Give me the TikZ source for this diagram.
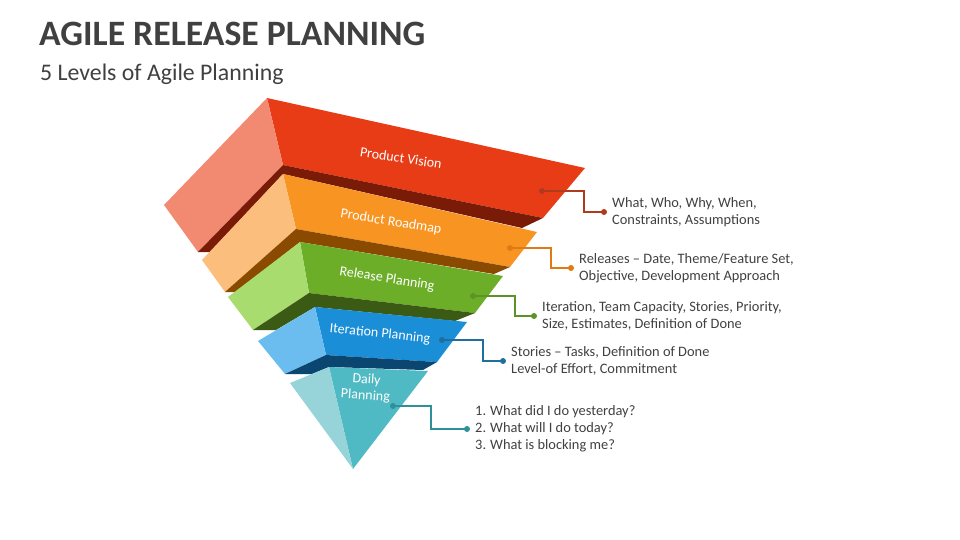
\documentclass[tikz,border=0pt]{standalone}
\usepackage{fontspec}
\setmainfont{Carlito}
\usepackage{xcolor}
\usepackage{tikz}
\usetikzlibrary{positioning, calc}

\definecolor{visionfront}{HTML}{E83C16}
\definecolor{visionside}{HTML}{F28A72}
\definecolor{visiondark}{HTML}{7A1B08}
\definecolor{visionline}{HTML}{B03A1E}
\definecolor{roadmapfront}{HTML}{F89422}
\definecolor{roadmapside}{HTML}{FBBE7D}
\definecolor{roadmapdark}{HTML}{8A4A00}
\definecolor{roadmapline}{HTML}{E07A12}
\definecolor{releasefront}{HTML}{6DAE29}
\definecolor{releaseside}{HTML}{A9DC6E}
\definecolor{releasedark}{HTML}{3B5B14}
\definecolor{releaseline}{HTML}{5C9226}
\definecolor{iterfront}{HTML}{1A8ED6}
\definecolor{iterside}{HTML}{6CBDEF}
\definecolor{iterdark}{HTML}{0B4670}
\definecolor{iterline}{HTML}{1F6E9E}
\definecolor{dailyfront}{HTML}{4FBAC3}
\definecolor{dailyside}{HTML}{96D4DA}
\definecolor{dailyline}{HTML}{2E9099}
\definecolor{textgray}{HTML}{404040}

\tikzset{
    funnellabel/.style={text=white, inner sep=0pt, align=center,
        font=\fontsize{14}{16}\selectfont},
    notetext/.style={anchor=west, align=left, inner xsep=8pt, inner ysep=0pt,
        text=textgray, font=\fontsize{14.4}{17}\selectfont}
}

\def\tikfunnel{%
    % front faces: a top left, b top right, c bottom right, d bottom left
    \coordinate (f1a) at (267,98);
    \coordinate (f1b) at (585,168);
    \coordinate (f1c) at (543,218);
    \coordinate (f1d) at (283,165);
    \coordinate (f2a) at (283,174);
    \coordinate (f2b) at (537,232);
    \coordinate (f2c) at (510,267);
    \coordinate (f2d) at (296,229);
    \coordinate (f3a) at (300,242);
    \coordinate (f3b) at (503,276);
    \coordinate (f3c) at (475,313);
    \coordinate (f3d) at (309,293);
    \coordinate (f4a) at (315,307);
    \coordinate (f4b) at (467,322);
    \coordinate (f4c) at (437,362);
    \coordinate (f4d) at (326,355);
    \coordinate (f5a) at (329,367);
    \coordinate (f5b) at (428,371);
    \coordinate (f5c) at (353,469);
    % side faces
    \coordinate (s1a) at (164,205);
    \coordinate (s1b) at (198,252);
    \coordinate (s2a) at (202,260);
    \coordinate (s2b) at (225,292);
    \coordinate (s3a) at (228,297);
    \coordinate (s3b) at (253,330);
    \coordinate (s4a) at (258,341);
    \coordinate (s4b) at (285,374);
    \coordinate (s5a) at (290,383);
    % ends of the dark bottom strips
    \coordinate (r1) at (522,228);
    \coordinate (r2) at (494,274);
    \coordinate (r3) at (455,321);
    \coordinate (r4) at (423,370);
    \coordinate (k1) at (210,252);
    \coordinate (k2) at (236,292);
    \coordinate (k3) at (276,330);
    \coordinate (k4) at (312,374);
    % connector dots and bends
    \coordinate (d1) at (542,191);
    \coordinate (d2) at (510,248);
    \coordinate (d3) at (473,296);
    \coordinate (d4) at (442,340);
    \coordinate (d5) at (393,406);
    \coordinate (b1) at (584,191);
    \coordinate (b2) at (551,248);
    \coordinate (b3) at (515,296);
    \coordinate (b4) at (483,340);
    \coordinate (b5) at (431,406);
}

\begin{document}
\begin{tikzpicture}[x=1pt, y=-1pt]
    \useasboundingbox (0,0) rectangle (960,540);
    \tikfunnel

    % title
    \node[anchor=base west, inner sep=0pt, text=textgray,
        font=\bfseries\fontsize{35.7}{40}\selectfont] (title) at (39,46) {AGILE RELEASE PLANNING};
    \node[anchor=base west, inner sep=0pt, text=textgray,
        font=\fontsize{23.8}{28}\selectfont] (subtitle) at (40,81) {5 Levels of Agile Planning};

    % the four slabs
    \foreach \lv/\nx/\co in {1/2/vision, 2/3/roadmap, 3/4/release, 4/5/iter}
    {
        \fill[\co front] (f\lv a) -- (f\lv b) -- (f\lv c) -- (f\lv d) -- cycle;
        \fill[\co side] (f\lv a) -- (s\lv a) -- (s\lv b) -- (f\lv d) -- cycle;
        \fill[\co dark] (s\lv b) -- (f\lv d) -- (f\lv c) -- (r\lv) -- (f\nx a) -- (k\lv) -- cycle;
    }

    % the tip
    \fill[dailyfront] (f5a) -- (f5b) -- (f5c) -- cycle;
    \fill[dailyside] (f5a) -- (s5a) -- (f5c) -- cycle;

    % labels on the front faces
    \node[funnellabel, rotate=-8.5] (lab1) at (401,158) {Product Vision};
    \node[funnellabel, rotate=-9] (lab2) at (391,222) {Product Roadmap};
    \node[funnellabel, rotate=-9] (lab3) at (387,279) {Release Planning};
    \node[funnellabel, rotate=-6] (lab4) at (380,334) {Iteration Planning};
    \node[funnellabel, rotate=-4] (lab5) at (366,388) {Daily\\Planning};

    % notes
    \node[notetext] (t1) at (604,212) {What, Who, Why, When,\\Constraints, Assumptions};
    \node[notetext] (t2) at (571,268) {Releases -- Date, Theme/Feature Set,\\Objective, Development Approach};
    \node[notetext] (t3) at (534,316) {Iteration, Team Capacity, Stories, Priority,\\Size, Estimates, Definition of Done};
    \node[notetext] (t4) at (503,361) {Stories -- Tasks, Definition of Done\\Level-of Effort, Commitment};
    \node[notetext] (t5) at (467,429) {\makebox[15pt][l]{1.}What did I do yesterday?\\
        \makebox[15pt][l]{2.}What will I do today?\\\makebox[15pt][l]{3.}What is blocking me?};

    % connectors
    \foreach \i/\co in {1/vision, 2/roadmap, 3/release, 4/iter, 5/daily}
    {
        \draw[\co line, line width=1.3pt] (d\i) -- (b\i) |- (t\i.west);
        \fill[\co line] (d\i) circle (3);
        \fill[\co line] (t\i.west) circle (3);
    }
\end{tikzpicture}
\end{document}
